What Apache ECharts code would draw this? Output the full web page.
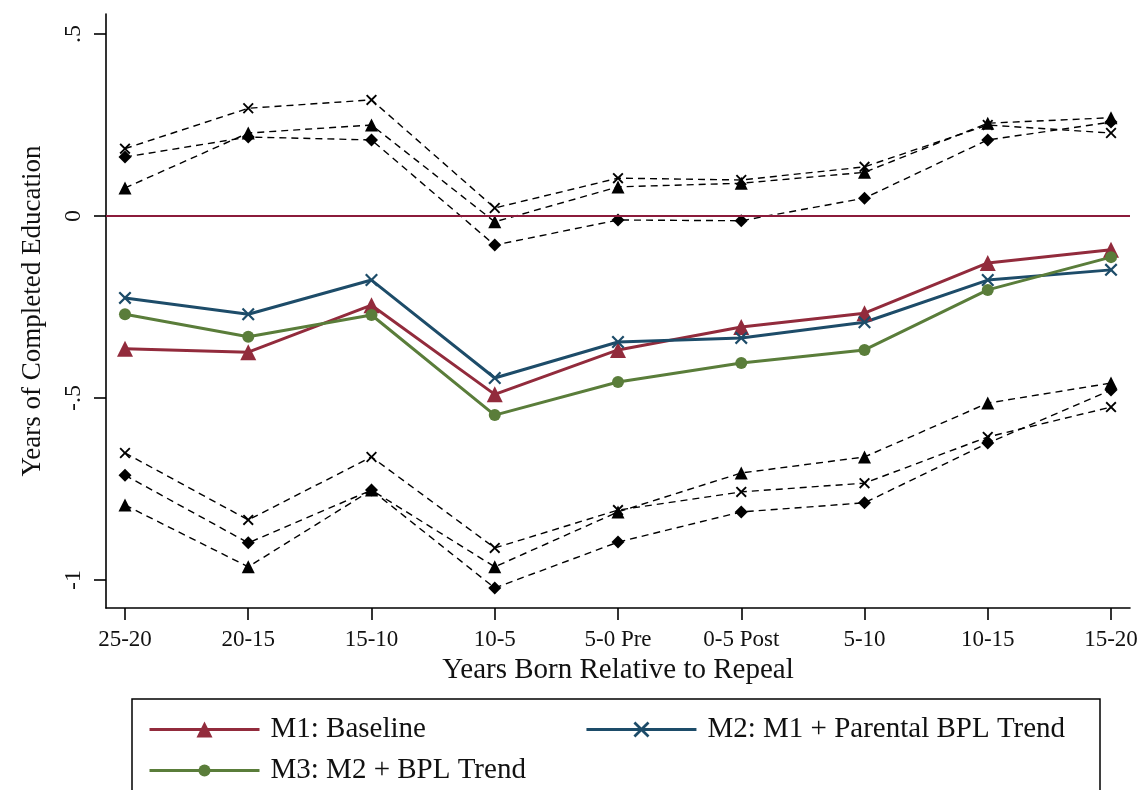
<!DOCTYPE html>
<html>
<head>
<meta charset="utf-8">
<script src="https://cdn.jsdelivr.net/npm/echarts@6/dist/echarts.min.js"></script>
<style>
  html, body { margin: 0; padding: 0; background: #fff; }
  #chart { width: 1144px; height: 790px; }
</style>
</head>
<body>
<div id="chart"></div>
<script>
// Cohorts: years born relative to repeal
const categories = ['25-20', '20-15', '15-10', '10-5', '5-0 Pre', '0-5 Post', '5-10', '10-15', '15-20'];

// Point estimates by model
const m1 = [-0.365, -0.374, -0.245, -0.490, -0.368, -0.305, -0.267, -0.129, -0.093];
const m2 = [-0.225, -0.270, -0.176, -0.445, -0.346, -0.335, -0.292, -0.176, -0.148];
const m3 = [-0.270, -0.332, -0.272, -0.547, -0.456, -0.404, -0.368, -0.203, -0.113];

// Confidence bounds by model
const m1Upper = [0.077, 0.228, 0.250, -0.016, 0.080, 0.090, 0.120, 0.255, 0.270];
const m2Upper = [0.185, 0.296, 0.319, 0.022, 0.104, 0.099, 0.135, 0.250, 0.228];
const m3Upper = [0.162, 0.217, 0.209, -0.080, -0.011, -0.013, 0.049, 0.209, 0.258];
const m1Lower = [-0.794, -0.964, -0.753, -0.964, -0.813, -0.706, -0.662, -0.514, -0.459];
const m2Lower = [-0.651, -0.835, -0.662, -0.912, -0.808, -0.758, -0.734, -0.607, -0.525];
const m3Lower = [-0.712, -0.898, -0.753, -1.022, -0.896, -0.813, -0.788, -0.624, -0.478];

// Axis ticks
const yTicks = [-1, -0.5, 0, 0.5];
const xTicks = categories.map((_, i) => i);

const names = ['M1: Baseline', 'M2: M1 + Parental BPL Trend', 'M3: M2 + BPL Trend'];

const FONT = '"Liberation Serif", "DejaVu Serif", serif';
const RED = '#922b3c';
const BLUE = '#1d4c69';
const GREEN = '#5a7d3a';
const CROSS = 'path://M0,1.2L1.2,0L5,3.8L8.8,0L10,1.2L6.2,5L10,8.8L8.8,10L5,6.2L1.2,10L0,8.8L3.8,5Z';

const pairs = arr => arr.map((v, i) => [i, v]);

function bound(data, symbol, size) {
  return {
    type: 'line',
    data: pairs(data),
    symbol: symbol,
    symbolSize: size,
    itemStyle: { color: '#000' },
    lineStyle: { color: '#000', width: 1.4, type: [7, 5] },
    z: 2,
    silent: true
  };
}

function estimate(name, data, color, symbol, size) {
  return {
    name: name,
    type: 'line',
    data: pairs(data),
    symbol: symbol,
    symbolSize: size,
    itemStyle: { color: color },
    lineStyle: { color: color, width: 3 },
    z: 4
  };
}

function fmtY(v) {
  if (v === 0) return '0';
  return String(v).replace('0.', '.');
}

const legendText = { fontFamily: FONT, fontSize: 29, color: '#111', padding: [0, 0, 0, 6] };

const chart = echarts.init(document.getElementById('chart'), null, { renderer: 'canvas' });

chart.setOption({
  animation: false,
  backgroundColor: '#fff',
  textStyle: { fontFamily: FONT, color: '#111' },
  grid: { left: 106, right: 14, top: 14, bottom: 182 },
  xAxis: {
    type: 'value',
    min: -0.154,
    max: 8.154,
    name: 'Years Born Relative to Repeal',
    nameLocation: 'middle',
    nameGap: 39,
    nameTextStyle: { fontFamily: FONT, fontSize: 29, color: '#111' },
    axisLine: { onZero: false, lineStyle: { color: '#000', width: 1.6 } },
    axisTick: { customValues: xTicks, length: 12, lineStyle: { color: '#000', width: 1.6 } },
    axisLabel: {
      customValues: xTicks,
      formatter: v => categories[Math.round(v)],
      fontFamily: FONT, fontSize: 23, color: '#111', margin: 20
    },
    splitLine: { show: false }
  },
  yAxis: {
    type: 'value',
    min: -1.077,
    max: 0.555,
    name: 'Years of Completed Education',
    nameLocation: 'middle',
    nameRotate: 90,
    nameGap: 60,
    nameTextStyle: { fontFamily: FONT, fontSize: 27, color: '#111' },
    axisLine: { show: true, onZero: false, lineStyle: { color: '#000', width: 1.6 } },
    axisTick: { show: true, customValues: yTicks, length: 12, lineStyle: { color: '#000', width: 1.6 } },
    axisLabel: {
      customValues: yTicks,
      formatter: fmtY,
      rotate: 90,
      fontFamily: FONT, fontSize: 24, color: '#111', margin: 20
    },
    splitLine: { show: false }
  },
  legend: [
    {
      data: [names[0], names[1]],
      left: 143,
      top: 710,
      itemWidth: 110,
      itemHeight: 20,
      itemGap: 159,
      selectedMode: false,
      lineStyle: { width: 3 },
      textStyle: legendText
    },
    {
      data: [names[2]],
      left: 143,
      top: 751,
      itemWidth: 110,
      itemHeight: 15,
      selectedMode: false,
      lineStyle: { width: 3 },
      textStyle: legendText
    }
  ],
  graphic: [
    {
      type: 'rect',
      shape: { x: 132, y: 699, width: 968, height: 140 },
      style: { fill: 'none', stroke: '#000', lineWidth: 1.5 },
      silent: true
    }
  ],
  series: [
    bound(m1Upper, 'triangle', 13),
    bound(m2Upper, CROSS, 11),
    bound(m3Upper, 'diamond', 13),
    bound(m1Lower, 'triangle', 13),
    bound(m2Lower, CROSS, 11),
    bound(m3Lower, 'diamond', 13),
    {
      type: 'line',
      data: [],
      silent: true,
      markLine: {
        silent: true,
        symbol: ['none', 'none'],
        label: { show: false },
        lineStyle: { color: '#8b1b3b', width: 2, type: 'solid' },
        data: [{ yAxis: 0 }]
      },
      z: 1
    },
    estimate(names[0], m1, RED, 'triangle', 16),
    estimate(names[1], m2, BLUE, CROSS, 13),
    estimate(names[2], m3, GREEN, 'circle', 12)
  ]
});
</script>
</body>
</html>
